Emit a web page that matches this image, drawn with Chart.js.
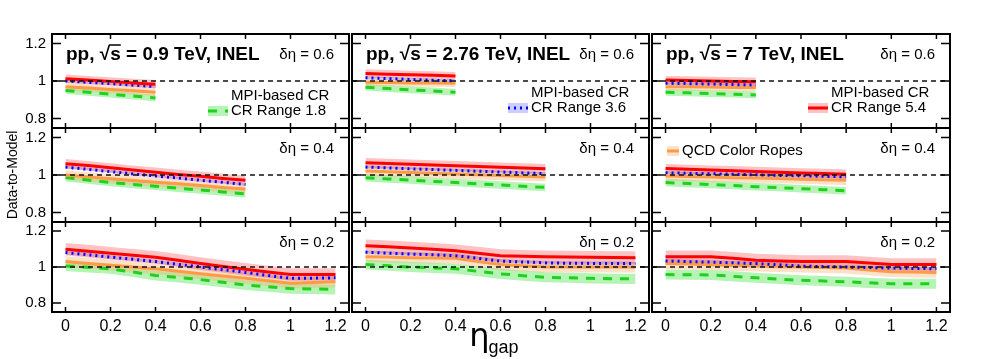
<!DOCTYPE html>
<html>
<head>
<meta charset="utf-8">
<title>Data-to-Model</title>
<script src="https://cdn.jsdelivr.net/npm/chart.js@4.4.1/dist/chart.umd.min.js"></script>
<style>
    body { margin: 0; background: #fff; }
    #figure { position: relative; width: 997px; height: 359px; overflow: hidden; }
    .panel { position: absolute; display: block; }
</style>
</head>
<body>
<div id="figure"></div>
<script>
// eta_gap points, one row of panels per delta-eta window
const etaGap = [0, 0.1, 0.2, 0.3, 0.4, 0.5, 0.6, 0.7, 0.8, 0.9, 1.0, 1.1, 1.2];
const etaGapMax = [0.4, 0.8, 1.2];
const deltaEta = ['0.6', '0.4', '0.2'];
const energies = ['0.9', '2.76', '7'];
const xTicks = [0, 0.2, 0.4, 0.6, 0.8, 1, 1.2];
const yTicks = [0.8, 1, 1.2];

// MPI-based CR, CR Range 1.8 (green dashed) - rows: deta 0.6, 0.4, 0.2
const range18_09 = [
    [0.95, 0.94, 0.93, 0.92, 0.91],
    [0.986, 0.973, 0.96, 0.95, 0.94, 0.93, 0.92, 0.91, 0.90],
    [1.006, 0.998, 0.99, 0.972, 0.953, 0.942, 0.93, 0.915, 0.90, 0.89, 0.88, 0.878, 0.875]
];
const range18_276 = [
    [0.967, 0.96, 0.953, 0.947, 0.94],
    [0.986, 0.979, 0.973, 0.966, 0.96, 0.953, 0.947, 0.94, 0.934],
    [1.014, 1.007, 1.0, 0.995, 0.99, 0.976, 0.962, 0.952, 0.943, 0.94, 0.937, 0.935, 0.934]
];
const range18_7 = [
    [0.94, 0.937, 0.933, 0.93, 0.926],
    [0.96, 0.955, 0.949, 0.944, 0.938, 0.933, 0.927, 0.922, 0.916],
    [0.958, 0.957, 0.956, 0.948, 0.94, 0.933, 0.926, 0.922, 0.918, 0.912, 0.907, 0.907, 0.907]
];

// QCD Color Ropes (orange)
const ropes_09 = [
    [0.97, 0.963, 0.955, 0.948, 0.94],
    [1.0, 0.99, 0.98, 0.971, 0.962, 0.953, 0.944, 0.934, 0.925],
    [1.03, 1.02, 1.01, 1.0, 0.99, 0.976, 0.962, 0.95, 0.937, 0.923, 0.91, 0.914, 0.918]
];
const ropes_276 = [
    [0.993, 0.992, 0.99, 0.989, 0.988],
    [1.021, 1.017, 1.013, 1.009, 1.005, 1.001, 0.997, 0.994, 0.99],
    [1.057, 1.055, 1.052, 1.05, 1.048, 1.03, 1.014, 1.007, 1.0, 1.0, 1.0, 1.0, 1.0]
];
const ropes_7 = [
    [0.97, 0.969, 0.968, 0.966, 0.965],
    [0.995, 0.992, 0.989, 0.986, 0.984, 0.981, 0.978, 0.975, 0.972],
    [1.019, 1.016, 1.012, 1.008, 1.005, 1.002, 1.0, 0.997, 0.994, 0.984, 0.974, 0.972, 0.97]
];

// MPI-based CR, CR Range 3.6 (blue dotted)
const range36_09 = [
    [1.0, 0.993, 0.986, 0.978, 0.97],
    [1.042, 1.03, 1.018, 1.006, 0.995, 0.984, 0.972, 0.961, 0.95],
    [1.08, 1.068, 1.055, 1.043, 1.03, 1.015, 1.0, 0.985, 0.97, 0.953, 0.937, 0.938, 0.94]
];
const range36_276 = [
    [1.017, 1.013, 1.008, 1.004, 1.0],
    [1.042, 1.038, 1.033, 1.029, 1.025, 1.02, 1.016, 1.011, 1.007],
    [1.082, 1.077, 1.072, 1.068, 1.063, 1.048, 1.033, 1.028, 1.023, 1.021, 1.02, 1.02, 1.019]
];
const range36_7 = [
    [0.988, 0.986, 0.984, 0.981, 0.979],
    [1.012, 1.009, 1.007, 1.004, 1.001, 0.998, 0.996, 0.993, 0.99],
    [1.034, 1.03, 1.027, 1.023, 1.019, 1.012, 1.005, 1.002, 1.0, 0.997, 0.994, 0.992, 0.99]
];

// MPI-based CR, CR Range 5.4 (red solid)
const range54_09 = [
    [1.012, 1.005, 0.998, 0.99, 0.983],
    [1.06, 1.05, 1.038, 1.026, 1.015, 1.003, 0.993, 0.982, 0.972],
    [1.099, 1.088, 1.076, 1.065, 1.054, 1.037, 1.019, 1.003, 0.987, 0.972, 0.958, 0.958, 0.958]
];
const range54_276 = [
    [1.04, 1.036, 1.033, 1.03, 1.026],
    [1.065, 1.061, 1.057, 1.053, 1.049, 1.045, 1.041, 1.037, 1.033],
    [1.118, 1.112, 1.105, 1.098, 1.09, 1.077, 1.063, 1.06, 1.057, 1.055, 1.054, 1.053, 1.052]
];
const range54_7 = [
    [1.005, 1.003, 1.0, 0.998, 0.996],
    [1.034, 1.03, 1.026, 1.023, 1.019, 1.015, 1.011, 1.008, 1.004],
    [1.057, 1.057, 1.057, 1.048, 1.038, 1.034, 1.03, 1.03, 1.03, 1.022, 1.014, 1.014, 1.014]
];

// model uncertainty half-widths per delta-eta row
const unc18 = [0.018, 0.02, 0.028];
const uncRopes = [0.02, 0.025, 0.03];
const unc36 = [0.008, 0.008, 0.01];
const unc54 = [0.022, 0.025, 0.035];

const models = [
    { label: 'CR Range 1.8', series: [range18_09, range18_276, range18_7], unc: unc18,
      line: '#1fd01f', dash: [9, 8], band: 'rgba(60, 225, 60, 0.38)' },
    { label: 'QCD Color Ropes', series: [ropes_09, ropes_276, ropes_7], unc: uncRopes,
      line: '#ff9a45', dash: [], band: 'rgba(255, 165, 100, 0.35)' },
    { label: 'CR Range 3.6', series: [range36_09, range36_276, range36_7], unc: unc36,
      line: '#0000ff', dash: [2, 4], band: 'rgba(90, 90, 255, 0.3)' },
    { label: 'CR Range 5.4', series: [range54_09, range54_276, range54_7], unc: unc54,
      line: '#ff0000', dash: [], band: 'rgba(255, 70, 70, 0.33)' }
];

// panel frames on the page
const colLeft = [52, 352, 652];
const colWidth = [297, 297, 298];
const rowTop = [34, 128, 222];
const rowHeight = [94, 94, 90];

const FONT = '"Liberation Sans", Arial, Helvetica, sans-serif';
Chart.defaults.font.family = FONT;
Chart.defaults.color = '#000';

// legend entries: [model index or null for header, text, dy from top]
const legends = {
    '0,0': { fromRight: true, x: 141, rows: [[null, 'MPI-based CR', 62], [0, 'CR Range 1.8', 77]] },
    '0,1': { fromRight: true, x: 141, rows: [[null, 'MPI-based CR', 59], [2, 'CR Range 3.6', 74]] },
    '0,2': { fromRight: true, x: 142, rows: [[null, 'MPI-based CR', 59], [3, 'CR Range 5.4', 74]] },
    '1,2': { fromRight: false, x: 15, small: true, rows: [[1, 'QCD Color Ropes', 23]] }
};

function drawSwatch(ctx, m, x, y, w) {
    ctx.fillStyle = m.band;
    ctx.fillRect(x, y - 5, w, 10);
    ctx.strokeStyle = m.line;
    ctx.lineWidth = 3;
    ctx.setLineDash(m.dash);
    ctx.beginPath();
    ctx.moveTo(x, y);
    ctx.lineTo(x + w, y);
    ctx.stroke();
    ctx.setLineDash([]);
}

const panelDecor = {
    id: 'panelDecor',
    afterDatasetsDraw(chart, args, opts) {
        const { ctx, chartArea: a, scales: { x, y } } = chart;
        ctx.save();

        // reference line at 1
        const y1 = y.getPixelForValue(1);
        ctx.strokeStyle = '#111';
        ctx.lineWidth = 1.5;
        ctx.setLineDash([5, 4]);
        ctx.beginPath();
        ctx.moveTo(a.left, y1);
        ctx.lineTo(a.right, y1);
        ctx.stroke();
        ctx.setLineDash([]);

        // frame and inward ticks
        ctx.strokeStyle = '#000';
        ctx.lineWidth = 2;
        ctx.strokeRect(a.left, a.top, a.right - a.left, a.bottom - a.top);
        ctx.lineWidth = 1.5;
        ctx.beginPath();
        xTicks.forEach(v => {
            const px = x.getPixelForValue(v);
            ctx.moveTo(px, a.bottom);
            ctx.lineTo(px, a.bottom - 5);
            ctx.moveTo(px, a.top);
            ctx.lineTo(px, a.top + 5);
        });
        yTicks.forEach(v => {
            const py = y.getPixelForValue(v);
            ctx.moveTo(a.left, py);
            ctx.lineTo(a.left + 9, py);
            ctx.moveTo(a.right, py);
            ctx.lineTo(a.right - 9, py);
        });
        ctx.stroke();

        ctx.fillStyle = '#000';
        ctx.textBaseline = 'alphabetic';

        // delta-eta label
        ctx.font = '15px ' + FONT;
        ctx.textAlign = 'right';
        ctx.fillText('δη = ' + deltaEta[opts.row], a.right - 15, a.top + 25);

        // collision system title with an overline on s
        if (opts.row === 0) {
            ctx.font = 'bold 19px ' + FONT;
            ctx.textAlign = 'left';
            const head = 'pp, √';
            const text = head + 's = ' + energies[opts.col] + ' TeV, INEL';
            const tx = a.left + 14, ty = a.top + 26;
            ctx.fillText(text, tx, ty);
            const sx = tx + ctx.measureText(head).width;
            const sw = ctx.measureText('s').width;
            ctx.lineWidth = 1.5;
            ctx.beginPath();
            ctx.moveTo(sx - 1, ty - 15);
            ctx.lineTo(sx + sw, ty - 15);
            ctx.stroke();
        }

        const leg = legends[opts.row + ',' + opts.col];
        if (leg) {
            const sw = leg.small ? 12 : 20;
            const lx = leg.fromRight ? a.right - leg.x : a.left + leg.x;
            ctx.font = '15px ' + FONT;
            ctx.textAlign = 'left';
            ctx.textBaseline = 'middle';
            leg.rows.forEach(([mi, label, dy]) => {
                if (mi !== null) drawSwatch(ctx, models[mi], lx, a.top + dy, sw);
                ctx.fillStyle = '#000';
                ctx.fillText(label, lx + sw + 3, a.top + dy);
            });
        }

        // x axis title under the middle panel
        if (opts.row === 2 && opts.col === 1) {
            const cx = (a.left + a.right) / 2;
            ctx.textBaseline = 'alphabetic';
            ctx.textAlign = 'right';
            ctx.font = '32px "DejaVu Sans", sans-serif';
            ctx.fillText('η', cx - 11, a.bottom + 34);
            ctx.textAlign = 'left';
            ctx.font = '18px ' + FONT;
            ctx.fillText('gap', cx - 12, a.bottom + 41);
        }
        ctx.restore();
    }
};

function buildDatasets(row, col) {
    const xs = etaGap.filter(v => v <= etaGapMax[row] + 1e-9);
    const datasets = [];
    models.forEach((m, i) => {
        const vals = m.series[col][row];
        const u = m.unc[row];
        datasets.push({
            data: xs.map((x, k) => ({ x, y: vals[k] + u })),
            borderWidth: 0, pointRadius: 0, fill: false, order: 20 - i
        });
        datasets.push({
            data: xs.map((x, k) => ({ x, y: vals[k] - u })),
            borderWidth: 0, pointRadius: 0, fill: '-1', backgroundColor: m.band, order: 20 - i
        });
        datasets.push({
            data: xs.map((x, k) => ({ x, y: vals[k] })),
            borderColor: m.line, borderWidth: 3, borderDash: m.dash,
            pointRadius: 0, fill: false, order: 10 - i
        });
    });
    return datasets;
}

document.addEventListener('DOMContentLoaded', () => {
    const figure = document.getElementById('figure');

    for (let row = 0; row < 3; row++) {
        for (let col = 0; col < 3; col++) {
            const padL = col === 0 ? 52 : 2;
            const padB = row === 2 ? 47 : 2;
            const w = colWidth[col] + padL + 2;
            const h = rowHeight[row] + 2 + padB;
            const canvas = document.createElement('canvas');
            canvas.className = 'panel';
            canvas.width = w;
            canvas.height = h;
            canvas.style.width = w + 'px';
            canvas.style.height = h + 'px';
            canvas.style.left = (colLeft[col] - padL) + 'px';
            canvas.style.top = (rowTop[row] - 2) + 'px';
            figure.appendChild(canvas);

            new Chart(canvas, {
                type: 'line',
                data: { datasets: buildDatasets(row, col) },
                options: {
                    animation: false,
                    responsive: false,
                    devicePixelRatio: 1,
                    layout: { padding: { left: col === 0 ? 0 : 2, right: 2, top: 2, bottom: row === 2 ? 0 : 2 } },
                    elements: { line: { tension: 0 } },
                    plugins: {
                        legend: { display: false },
                        tooltip: { enabled: false },
                        panelDecor: { row, col }
                    },
                    scales: {
                        x: {
                            type: 'linear',
                            min: -0.06,
                            max: 1.26,
                            display: row === 2,
                            grid: { display: false, drawTicks: false },
                            border: { display: false },
                            afterFit: s => {
                                if (row !== 2) return;
                                s.height = 47;
                                s.paddingLeft = 0;
                                s.paddingRight = 0;
                            },
                            afterBuildTicks: s => { s.ticks = xTicks.map(v => ({ value: v })); },
                            ticks: {
                                padding: 5,
                                maxRotation: 0,
                                autoSkip: false,
                                font: { size: 16 },
                                callback: v => String(+v.toFixed(1))
                            }
                        },
                        y: {
                            min: 0.75,
                            max: 1.25,
                            display: col === 0,
                            grid: { display: false, drawTicks: false },
                            border: { display: false },
                            afterFit: s => {
                                if (col !== 0) return;
                                s.width = 52;
                                s.paddingTop = 0;
                                s.paddingBottom = 0;
                            },
                            afterBuildTicks: s => { s.ticks = yTicks.map(v => ({ value: v })); },
                            ticks: {
                                padding: 6,
                                font: { size: 15 },
                                callback: v => String(+v.toFixed(1))
                            },
                            title: {
                                display: row === 1,
                                text: 'Data-to-Model',
                                font: { size: 14 },
                                padding: { top: 5, bottom: 0 }
                            }
                        }
                    }
                },
                plugins: [panelDecor]
            });
        }
    }
});
</script>
</body>
</html>
